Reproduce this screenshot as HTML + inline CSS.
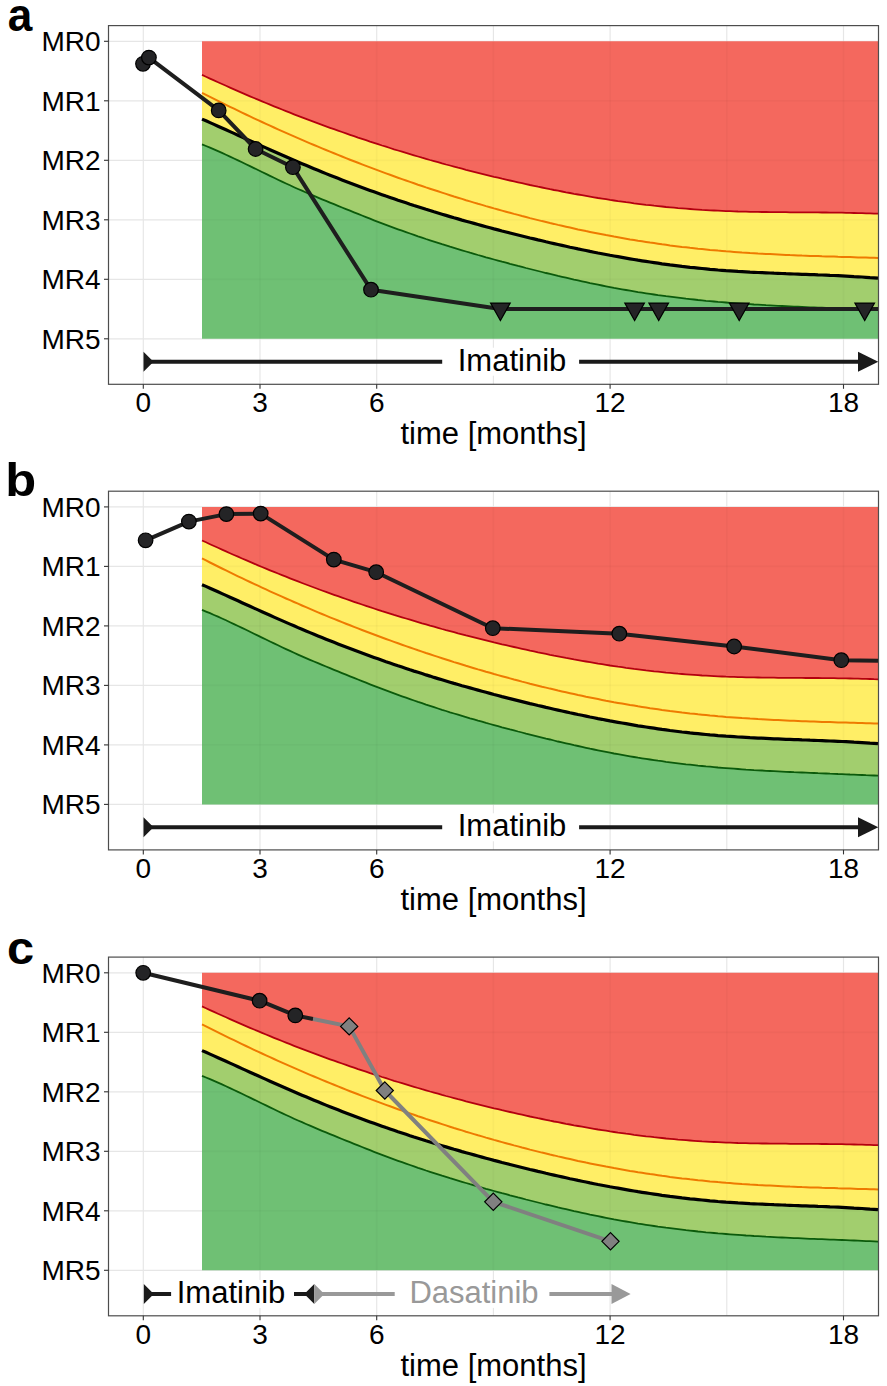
<!DOCTYPE html>
<html><head><meta charset="utf-8"><style>
html,body{margin:0;padding:0;background:#fff;}
svg{display:block;font-family:"Liberation Sans",sans-serif;}
</style></head><body>
<svg width="887" height="1386" viewBox="0 0 887 1386">
<defs>
<g id="bands">
<path d="M202.0,41.3 L206.0,41.3 L210.0,41.3 L214.0,41.3 L218.0,41.3 L222.0,41.3 L226.0,41.3 L230.0,41.3 L234.0,41.3 L238.0,41.3 L242.0,41.3 L246.0,41.3 L250.0,41.3 L254.0,41.3 L258.0,41.3 L262.0,41.3 L266.0,41.3 L270.0,41.3 L274.0,41.3 L278.0,41.3 L282.0,41.3 L286.0,41.3 L290.0,41.3 L294.0,41.3 L298.0,41.3 L302.0,41.3 L306.0,41.3 L310.0,41.3 L314.0,41.3 L318.0,41.3 L322.0,41.3 L326.0,41.3 L330.0,41.3 L334.0,41.3 L338.0,41.3 L342.0,41.3 L346.0,41.3 L350.0,41.3 L354.0,41.3 L358.0,41.3 L362.0,41.3 L366.0,41.3 L370.0,41.3 L374.0,41.3 L378.0,41.3 L382.0,41.3 L386.0,41.3 L390.0,41.3 L394.0,41.3 L398.0,41.3 L402.0,41.3 L406.0,41.3 L410.0,41.3 L414.0,41.3 L418.0,41.3 L422.0,41.3 L426.0,41.3 L430.0,41.3 L434.0,41.3 L438.0,41.3 L442.0,41.3 L446.0,41.3 L450.0,41.3 L454.0,41.3 L458.0,41.3 L462.0,41.3 L466.0,41.3 L470.0,41.3 L474.0,41.3 L478.0,41.3 L482.0,41.3 L486.0,41.3 L490.0,41.3 L494.0,41.3 L498.0,41.3 L502.0,41.3 L506.0,41.3 L510.0,41.3 L514.0,41.3 L518.0,41.3 L522.0,41.3 L526.0,41.3 L530.0,41.3 L534.0,41.3 L538.0,41.3 L542.0,41.3 L546.0,41.3 L550.0,41.3 L554.0,41.3 L558.0,41.3 L562.0,41.3 L566.0,41.3 L570.0,41.3 L574.0,41.3 L578.0,41.3 L582.0,41.3 L586.0,41.3 L590.0,41.3 L594.0,41.3 L598.0,41.3 L602.0,41.3 L606.0,41.3 L610.0,41.3 L614.0,41.3 L618.0,41.3 L622.0,41.3 L626.0,41.3 L630.0,41.3 L634.0,41.3 L638.0,41.3 L642.0,41.3 L646.0,41.3 L650.0,41.3 L654.0,41.3 L658.0,41.3 L662.0,41.3 L666.0,41.3 L670.0,41.3 L674.0,41.3 L678.0,41.3 L682.0,41.3 L686.0,41.3 L690.0,41.3 L694.0,41.3 L698.0,41.3 L702.0,41.3 L706.0,41.3 L710.0,41.3 L714.0,41.3 L718.0,41.3 L722.0,41.3 L726.0,41.3 L730.0,41.3 L734.0,41.3 L738.0,41.3 L742.0,41.3 L746.0,41.3 L750.0,41.3 L754.0,41.3 L758.0,41.3 L762.0,41.3 L766.0,41.3 L770.0,41.3 L774.0,41.3 L778.0,41.3 L782.0,41.3 L786.0,41.3 L790.0,41.3 L794.0,41.3 L798.0,41.3 L802.0,41.3 L806.0,41.3 L810.0,41.3 L814.0,41.3 L818.0,41.3 L822.0,41.3 L826.0,41.3 L830.0,41.3 L834.0,41.3 L838.0,41.3 L842.0,41.3 L846.0,41.3 L850.0,41.3 L854.0,41.3 L858.0,41.3 L862.0,41.3 L866.0,41.3 L870.0,41.3 L874.0,41.3 L878.0,41.3 L878.0,213.7 L874.0,213.6 L870.0,213.4 L866.0,213.3 L862.0,213.2 L858.0,213.1 L854.0,213.0 L850.0,212.9 L846.0,212.8 L842.0,212.7 L838.0,212.7 L834.0,212.6 L830.0,212.6 L826.0,212.5 L822.0,212.5 L818.0,212.4 L814.0,212.4 L810.0,212.4 L806.0,212.4 L802.0,212.3 L798.0,212.3 L794.0,212.3 L790.0,212.3 L786.0,212.2 L782.0,212.2 L778.0,212.2 L774.0,212.1 L770.0,212.1 L766.0,212.0 L762.0,212.0 L758.0,211.9 L754.0,211.8 L750.0,211.8 L746.0,211.7 L742.0,211.6 L738.0,211.5 L734.0,211.3 L730.0,211.2 L726.0,211.1 L722.0,210.9 L718.0,210.7 L714.0,210.5 L710.0,210.3 L706.0,210.1 L702.0,209.9 L698.0,209.6 L694.0,209.3 L690.0,209.0 L686.0,208.7 L682.0,208.4 L678.0,208.1 L674.0,207.7 L670.0,207.3 L666.0,207.0 L662.0,206.5 L658.0,206.1 L654.0,205.7 L650.0,205.2 L646.0,204.8 L642.0,204.3 L638.0,203.8 L634.0,203.3 L630.0,202.7 L626.0,202.2 L622.0,201.6 L618.0,201.1 L614.0,200.5 L610.0,199.9 L606.0,199.2 L602.0,198.6 L598.0,198.0 L594.0,197.3 L590.0,196.6 L586.0,195.9 L582.0,195.2 L578.0,194.5 L574.0,193.8 L570.0,193.0 L566.0,192.3 L562.0,191.5 L558.0,190.7 L554.0,190.0 L550.0,189.2 L546.0,188.3 L542.0,187.5 L538.0,186.7 L534.0,185.8 L530.0,185.0 L526.0,184.1 L522.0,183.2 L518.0,182.3 L514.0,181.4 L510.0,180.5 L506.0,179.6 L502.0,178.7 L498.0,177.7 L494.0,176.8 L490.0,175.8 L486.0,174.8 L482.0,173.8 L478.0,172.8 L474.0,171.8 L470.0,170.8 L466.0,169.8 L462.0,168.7 L458.0,167.7 L454.0,166.6 L450.0,165.5 L446.0,164.5 L442.0,163.4 L438.0,162.2 L434.0,161.1 L430.0,160.0 L426.0,158.8 L422.0,157.7 L418.0,156.5 L414.0,155.3 L410.0,154.1 L406.0,152.9 L402.0,151.7 L398.0,150.5 L394.0,149.3 L390.0,148.0 L386.0,146.7 L382.0,145.5 L378.0,144.2 L374.0,142.9 L370.0,141.6 L366.0,140.2 L362.0,138.9 L358.0,137.6 L354.0,136.2 L350.0,134.8 L346.0,133.4 L342.0,132.0 L338.0,130.6 L334.0,129.2 L330.0,127.8 L326.0,126.3 L322.0,124.9 L318.0,123.4 L314.0,121.9 L310.0,120.4 L306.0,118.9 L302.0,117.4 L298.0,115.8 L294.0,114.3 L290.0,112.7 L286.0,111.1 L282.0,109.5 L278.0,107.9 L274.0,106.3 L270.0,104.7 L266.0,103.0 L262.0,101.4 L258.0,99.7 L254.0,98.0 L250.0,96.3 L246.0,94.6 L242.0,92.9 L238.0,91.1 L234.0,89.4 L230.0,87.6 L226.0,85.8 L222.0,84.0 L218.0,82.2 L214.0,80.4 L210.0,78.6 L206.0,76.7 L202.0,74.9Z" fill="#f4685e"/>
<path d="M202.0,74.9 L206.0,76.7 L210.0,78.6 L214.0,80.4 L218.0,82.2 L222.0,84.0 L226.0,85.8 L230.0,87.6 L234.0,89.4 L238.0,91.1 L242.0,92.9 L246.0,94.6 L250.0,96.3 L254.0,98.0 L258.0,99.7 L262.0,101.4 L266.0,103.0 L270.0,104.7 L274.0,106.3 L278.0,107.9 L282.0,109.5 L286.0,111.1 L290.0,112.7 L294.0,114.3 L298.0,115.8 L302.0,117.4 L306.0,118.9 L310.0,120.4 L314.0,121.9 L318.0,123.4 L322.0,124.9 L326.0,126.3 L330.0,127.8 L334.0,129.2 L338.0,130.6 L342.0,132.0 L346.0,133.4 L350.0,134.8 L354.0,136.2 L358.0,137.6 L362.0,138.9 L366.0,140.2 L370.0,141.6 L374.0,142.9 L378.0,144.2 L382.0,145.5 L386.0,146.7 L390.0,148.0 L394.0,149.3 L398.0,150.5 L402.0,151.7 L406.0,152.9 L410.0,154.1 L414.0,155.3 L418.0,156.5 L422.0,157.7 L426.0,158.8 L430.0,160.0 L434.0,161.1 L438.0,162.2 L442.0,163.4 L446.0,164.5 L450.0,165.5 L454.0,166.6 L458.0,167.7 L462.0,168.7 L466.0,169.8 L470.0,170.8 L474.0,171.8 L478.0,172.8 L482.0,173.8 L486.0,174.8 L490.0,175.8 L494.0,176.8 L498.0,177.7 L502.0,178.7 L506.0,179.6 L510.0,180.5 L514.0,181.4 L518.0,182.3 L522.0,183.2 L526.0,184.1 L530.0,185.0 L534.0,185.8 L538.0,186.7 L542.0,187.5 L546.0,188.3 L550.0,189.2 L554.0,190.0 L558.0,190.7 L562.0,191.5 L566.0,192.3 L570.0,193.0 L574.0,193.8 L578.0,194.5 L582.0,195.2 L586.0,195.9 L590.0,196.6 L594.0,197.3 L598.0,198.0 L602.0,198.6 L606.0,199.2 L610.0,199.9 L614.0,200.5 L618.0,201.1 L622.0,201.6 L626.0,202.2 L630.0,202.7 L634.0,203.3 L638.0,203.8 L642.0,204.3 L646.0,204.8 L650.0,205.2 L654.0,205.7 L658.0,206.1 L662.0,206.5 L666.0,207.0 L670.0,207.3 L674.0,207.7 L678.0,208.1 L682.0,208.4 L686.0,208.7 L690.0,209.0 L694.0,209.3 L698.0,209.6 L702.0,209.9 L706.0,210.1 L710.0,210.3 L714.0,210.5 L718.0,210.7 L722.0,210.9 L726.0,211.1 L730.0,211.2 L734.0,211.3 L738.0,211.5 L742.0,211.6 L746.0,211.7 L750.0,211.8 L754.0,211.8 L758.0,211.9 L762.0,212.0 L766.0,212.0 L770.0,212.1 L774.0,212.1 L778.0,212.2 L782.0,212.2 L786.0,212.2 L790.0,212.3 L794.0,212.3 L798.0,212.3 L802.0,212.3 L806.0,212.4 L810.0,212.4 L814.0,212.4 L818.0,212.4 L822.0,212.5 L826.0,212.5 L830.0,212.6 L834.0,212.6 L838.0,212.7 L842.0,212.7 L846.0,212.8 L850.0,212.9 L854.0,213.0 L858.0,213.1 L862.0,213.2 L866.0,213.3 L870.0,213.4 L874.0,213.6 L878.0,213.7 L878.0,278.1 L874.0,277.8 L870.0,277.6 L866.0,277.3 L862.0,277.0 L858.0,276.8 L854.0,276.6 L850.0,276.3 L846.0,276.1 L842.0,275.9 L838.0,275.7 L834.0,275.5 L830.0,275.4 L826.0,275.2 L822.0,275.0 L818.0,274.9 L814.0,274.7 L810.0,274.6 L806.0,274.4 L802.0,274.3 L798.0,274.1 L794.0,274.0 L790.0,273.8 L786.0,273.7 L782.0,273.5 L778.0,273.3 L774.0,273.2 L770.0,273.0 L766.0,272.8 L762.0,272.6 L758.0,272.5 L754.0,272.3 L750.0,272.1 L746.0,271.8 L742.0,271.6 L738.0,271.4 L734.0,271.1 L730.0,270.8 L726.0,270.6 L722.0,270.3 L718.0,270.0 L714.0,269.6 L710.0,269.3 L706.0,268.9 L702.0,268.5 L698.0,268.1 L694.0,267.7 L690.0,267.3 L686.0,266.8 L682.0,266.4 L678.0,265.9 L674.0,265.4 L670.0,264.9 L666.0,264.3 L662.0,263.8 L658.0,263.2 L654.0,262.6 L650.0,262.0 L646.0,261.4 L642.0,260.8 L638.0,260.2 L634.0,259.5 L630.0,258.8 L626.0,258.1 L622.0,257.4 L618.0,256.7 L614.0,256.0 L610.0,255.3 L606.0,254.5 L602.0,253.7 L598.0,253.0 L594.0,252.2 L590.0,251.4 L586.0,250.5 L582.0,249.7 L578.0,248.9 L574.0,248.0 L570.0,247.2 L566.0,246.3 L562.0,245.4 L558.0,244.5 L554.0,243.6 L550.0,242.7 L546.0,241.8 L542.0,240.8 L538.0,239.9 L534.0,238.9 L530.0,238.0 L526.0,237.0 L522.0,236.0 L518.0,235.0 L514.0,234.0 L510.0,233.0 L506.0,232.0 L502.0,231.0 L498.0,229.9 L494.0,228.9 L490.0,227.8 L486.0,226.7 L482.0,225.6 L478.0,224.5 L474.0,223.4 L470.0,222.3 L466.0,221.2 L462.0,220.1 L458.0,218.9 L454.0,217.8 L450.0,216.6 L446.0,215.4 L442.0,214.2 L438.0,213.0 L434.0,211.8 L430.0,210.5 L426.0,209.3 L422.0,208.0 L418.0,206.7 L414.0,205.5 L410.0,204.2 L406.0,202.8 L402.0,201.5 L398.0,200.2 L394.0,198.8 L390.0,197.4 L386.0,196.1 L382.0,194.7 L378.0,193.2 L374.0,191.8 L370.0,190.4 L366.0,188.9 L362.0,187.4 L358.0,186.0 L354.0,184.5 L350.0,182.9 L346.0,181.4 L342.0,179.9 L338.0,178.3 L334.0,176.7 L330.0,175.2 L326.0,173.6 L322.0,171.9 L318.0,170.3 L314.0,168.7 L310.0,167.0 L306.0,165.3 L302.0,163.7 L298.0,162.0 L294.0,160.2 L290.0,158.5 L286.0,156.8 L282.0,155.0 L278.0,153.3 L274.0,151.5 L270.0,149.7 L266.0,147.9 L262.0,146.1 L258.0,144.3 L254.0,142.5 L250.0,140.7 L246.0,138.9 L242.0,137.1 L238.0,135.2 L234.0,133.4 L230.0,131.6 L226.0,129.8 L222.0,128.0 L218.0,126.2 L214.0,124.4 L210.0,122.6 L206.0,120.8 L202.0,119.1Z" fill="#ffee66"/>
<path d="M202.0,119.1 L206.0,120.8 L210.0,122.6 L214.0,124.4 L218.0,126.2 L222.0,128.0 L226.0,129.8 L230.0,131.6 L234.0,133.4 L238.0,135.2 L242.0,137.1 L246.0,138.9 L250.0,140.7 L254.0,142.5 L258.0,144.3 L262.0,146.1 L266.0,147.9 L270.0,149.7 L274.0,151.5 L278.0,153.3 L282.0,155.0 L286.0,156.8 L290.0,158.5 L294.0,160.2 L298.0,162.0 L302.0,163.7 L306.0,165.3 L310.0,167.0 L314.0,168.7 L318.0,170.3 L322.0,171.9 L326.0,173.6 L330.0,175.2 L334.0,176.7 L338.0,178.3 L342.0,179.9 L346.0,181.4 L350.0,182.9 L354.0,184.5 L358.0,186.0 L362.0,187.4 L366.0,188.9 L370.0,190.4 L374.0,191.8 L378.0,193.2 L382.0,194.7 L386.0,196.1 L390.0,197.4 L394.0,198.8 L398.0,200.2 L402.0,201.5 L406.0,202.8 L410.0,204.2 L414.0,205.5 L418.0,206.7 L422.0,208.0 L426.0,209.3 L430.0,210.5 L434.0,211.8 L438.0,213.0 L442.0,214.2 L446.0,215.4 L450.0,216.6 L454.0,217.8 L458.0,218.9 L462.0,220.1 L466.0,221.2 L470.0,222.3 L474.0,223.4 L478.0,224.5 L482.0,225.6 L486.0,226.7 L490.0,227.8 L494.0,228.9 L498.0,229.9 L502.0,231.0 L506.0,232.0 L510.0,233.0 L514.0,234.0 L518.0,235.0 L522.0,236.0 L526.0,237.0 L530.0,238.0 L534.0,238.9 L538.0,239.9 L542.0,240.8 L546.0,241.8 L550.0,242.7 L554.0,243.6 L558.0,244.5 L562.0,245.4 L566.0,246.3 L570.0,247.2 L574.0,248.0 L578.0,248.9 L582.0,249.7 L586.0,250.5 L590.0,251.4 L594.0,252.2 L598.0,253.0 L602.0,253.7 L606.0,254.5 L610.0,255.3 L614.0,256.0 L618.0,256.7 L622.0,257.4 L626.0,258.1 L630.0,258.8 L634.0,259.5 L638.0,260.2 L642.0,260.8 L646.0,261.4 L650.0,262.0 L654.0,262.6 L658.0,263.2 L662.0,263.8 L666.0,264.3 L670.0,264.9 L674.0,265.4 L678.0,265.9 L682.0,266.4 L686.0,266.8 L690.0,267.3 L694.0,267.7 L698.0,268.1 L702.0,268.5 L706.0,268.9 L710.0,269.3 L714.0,269.6 L718.0,270.0 L722.0,270.3 L726.0,270.6 L730.0,270.8 L734.0,271.1 L738.0,271.4 L742.0,271.6 L746.0,271.8 L750.0,272.1 L754.0,272.3 L758.0,272.5 L762.0,272.6 L766.0,272.8 L770.0,273.0 L774.0,273.2 L778.0,273.3 L782.0,273.5 L786.0,273.7 L790.0,273.8 L794.0,274.0 L798.0,274.1 L802.0,274.3 L806.0,274.4 L810.0,274.6 L814.0,274.7 L818.0,274.9 L822.0,275.0 L826.0,275.2 L830.0,275.4 L834.0,275.5 L838.0,275.7 L842.0,275.9 L846.0,276.1 L850.0,276.3 L854.0,276.6 L858.0,276.8 L862.0,277.0 L866.0,277.3 L870.0,277.6 L874.0,277.8 L878.0,278.1 L878.0,310.1 L874.0,309.9 L870.0,309.7 L866.0,309.6 L862.0,309.4 L858.0,309.2 L854.0,309.0 L850.0,308.9 L846.0,308.7 L842.0,308.5 L838.0,308.4 L834.0,308.2 L830.0,308.1 L826.0,307.9 L822.0,307.7 L818.0,307.6 L814.0,307.4 L810.0,307.3 L806.0,307.1 L802.0,306.9 L798.0,306.7 L794.0,306.6 L790.0,306.4 L786.0,306.2 L782.0,306.0 L778.0,305.8 L774.0,305.6 L770.0,305.4 L766.0,305.2 L762.0,304.9 L758.0,304.7 L754.0,304.5 L750.0,304.2 L746.0,304.0 L742.0,303.7 L738.0,303.4 L734.0,303.1 L730.0,302.8 L726.0,302.5 L722.0,302.2 L718.0,301.9 L714.0,301.5 L710.0,301.1 L706.0,300.8 L702.0,300.4 L698.0,300.0 L694.0,299.5 L690.0,299.1 L686.0,298.7 L682.0,298.2 L678.0,297.7 L674.0,297.2 L670.0,296.7 L666.0,296.2 L662.0,295.6 L658.0,295.1 L654.0,294.5 L650.0,293.9 L646.0,293.3 L642.0,292.7 L638.0,292.1 L634.0,291.4 L630.0,290.7 L626.0,290.0 L622.0,289.3 L618.0,288.6 L614.0,287.9 L610.0,287.1 L606.0,286.3 L602.0,285.5 L598.0,284.7 L594.0,283.9 L590.0,283.1 L586.0,282.2 L582.0,281.3 L578.0,280.4 L574.0,279.6 L570.0,278.6 L566.0,277.7 L562.0,276.8 L558.0,275.9 L554.0,274.9 L550.0,273.9 L546.0,273.0 L542.0,272.0 L538.0,271.0 L534.0,270.0 L530.0,269.0 L526.0,268.0 L522.0,266.9 L518.0,265.9 L514.0,264.8 L510.0,263.8 L506.0,262.7 L502.0,261.7 L498.0,260.6 L494.0,259.5 L490.0,258.4 L486.0,257.3 L482.0,256.1 L478.0,255.0 L474.0,253.8 L470.0,252.7 L466.0,251.5 L462.0,250.3 L458.0,249.1 L454.0,247.9 L450.0,246.7 L446.0,245.4 L442.0,244.2 L438.0,242.9 L434.0,241.6 L430.0,240.3 L426.0,239.0 L422.0,237.6 L418.0,236.3 L414.0,234.9 L410.0,233.5 L406.0,232.1 L402.0,230.7 L398.0,229.3 L394.0,227.8 L390.0,226.3 L386.0,224.8 L382.0,223.3 L378.0,221.8 L374.0,220.3 L370.0,218.7 L366.0,217.1 L362.0,215.5 L358.0,213.9 L354.0,212.3 L350.0,210.7 L346.0,209.1 L342.0,207.5 L338.0,205.8 L334.0,204.2 L330.0,202.6 L326.0,200.9 L322.0,199.3 L318.0,197.6 L314.0,195.9 L310.0,194.2 L306.0,192.5 L302.0,190.7 L298.0,189.0 L294.0,187.2 L290.0,185.3 L286.0,183.5 L282.0,181.6 L278.0,179.7 L274.0,177.8 L270.0,175.9 L266.0,173.9 L262.0,172.0 L258.0,170.0 L254.0,168.1 L250.0,166.1 L246.0,164.2 L242.0,162.3 L238.0,160.4 L234.0,158.5 L230.0,156.6 L226.0,154.7 L222.0,152.9 L218.0,151.1 L214.0,149.4 L210.0,147.6 L206.0,146.0 L202.0,144.3Z" fill="#a2ce6e"/>
<path d="M202.0,144.3 L206.0,146.0 L210.0,147.6 L214.0,149.4 L218.0,151.1 L222.0,152.9 L226.0,154.7 L230.0,156.6 L234.0,158.5 L238.0,160.4 L242.0,162.3 L246.0,164.2 L250.0,166.1 L254.0,168.1 L258.0,170.0 L262.0,172.0 L266.0,173.9 L270.0,175.9 L274.0,177.8 L278.0,179.7 L282.0,181.6 L286.0,183.5 L290.0,185.3 L294.0,187.2 L298.0,189.0 L302.0,190.7 L306.0,192.5 L310.0,194.2 L314.0,195.9 L318.0,197.6 L322.0,199.3 L326.0,200.9 L330.0,202.6 L334.0,204.2 L338.0,205.8 L342.0,207.5 L346.0,209.1 L350.0,210.7 L354.0,212.3 L358.0,213.9 L362.0,215.5 L366.0,217.1 L370.0,218.7 L374.0,220.3 L378.0,221.8 L382.0,223.3 L386.0,224.8 L390.0,226.3 L394.0,227.8 L398.0,229.3 L402.0,230.7 L406.0,232.1 L410.0,233.5 L414.0,234.9 L418.0,236.3 L422.0,237.6 L426.0,239.0 L430.0,240.3 L434.0,241.6 L438.0,242.9 L442.0,244.2 L446.0,245.4 L450.0,246.7 L454.0,247.9 L458.0,249.1 L462.0,250.3 L466.0,251.5 L470.0,252.7 L474.0,253.8 L478.0,255.0 L482.0,256.1 L486.0,257.3 L490.0,258.4 L494.0,259.5 L498.0,260.6 L502.0,261.7 L506.0,262.7 L510.0,263.8 L514.0,264.8 L518.0,265.9 L522.0,266.9 L526.0,268.0 L530.0,269.0 L534.0,270.0 L538.0,271.0 L542.0,272.0 L546.0,273.0 L550.0,273.9 L554.0,274.9 L558.0,275.9 L562.0,276.8 L566.0,277.7 L570.0,278.6 L574.0,279.6 L578.0,280.4 L582.0,281.3 L586.0,282.2 L590.0,283.1 L594.0,283.9 L598.0,284.7 L602.0,285.5 L606.0,286.3 L610.0,287.1 L614.0,287.9 L618.0,288.6 L622.0,289.3 L626.0,290.0 L630.0,290.7 L634.0,291.4 L638.0,292.1 L642.0,292.7 L646.0,293.3 L650.0,293.9 L654.0,294.5 L658.0,295.1 L662.0,295.6 L666.0,296.2 L670.0,296.7 L674.0,297.2 L678.0,297.7 L682.0,298.2 L686.0,298.7 L690.0,299.1 L694.0,299.5 L698.0,300.0 L702.0,300.4 L706.0,300.8 L710.0,301.1 L714.0,301.5 L718.0,301.9 L722.0,302.2 L726.0,302.5 L730.0,302.8 L734.0,303.1 L738.0,303.4 L742.0,303.7 L746.0,304.0 L750.0,304.2 L754.0,304.5 L758.0,304.7 L762.0,304.9 L766.0,305.2 L770.0,305.4 L774.0,305.6 L778.0,305.8 L782.0,306.0 L786.0,306.2 L790.0,306.4 L794.0,306.6 L798.0,306.7 L802.0,306.9 L806.0,307.1 L810.0,307.3 L814.0,307.4 L818.0,307.6 L822.0,307.7 L826.0,307.9 L830.0,308.1 L834.0,308.2 L838.0,308.4 L842.0,308.5 L846.0,308.7 L850.0,308.9 L854.0,309.0 L858.0,309.2 L862.0,309.4 L866.0,309.6 L870.0,309.7 L874.0,309.9 L878.0,310.1 L878.0,338.8 L874.0,338.8 L870.0,338.8 L866.0,338.8 L862.0,338.8 L858.0,338.8 L854.0,338.8 L850.0,338.8 L846.0,338.8 L842.0,338.8 L838.0,338.8 L834.0,338.8 L830.0,338.8 L826.0,338.8 L822.0,338.8 L818.0,338.8 L814.0,338.8 L810.0,338.8 L806.0,338.8 L802.0,338.8 L798.0,338.8 L794.0,338.8 L790.0,338.8 L786.0,338.8 L782.0,338.8 L778.0,338.8 L774.0,338.8 L770.0,338.8 L766.0,338.8 L762.0,338.8 L758.0,338.8 L754.0,338.8 L750.0,338.8 L746.0,338.8 L742.0,338.8 L738.0,338.8 L734.0,338.8 L730.0,338.8 L726.0,338.8 L722.0,338.8 L718.0,338.8 L714.0,338.8 L710.0,338.8 L706.0,338.8 L702.0,338.8 L698.0,338.8 L694.0,338.8 L690.0,338.8 L686.0,338.8 L682.0,338.8 L678.0,338.8 L674.0,338.8 L670.0,338.8 L666.0,338.8 L662.0,338.8 L658.0,338.8 L654.0,338.8 L650.0,338.8 L646.0,338.8 L642.0,338.8 L638.0,338.8 L634.0,338.8 L630.0,338.8 L626.0,338.8 L622.0,338.8 L618.0,338.8 L614.0,338.8 L610.0,338.8 L606.0,338.8 L602.0,338.8 L598.0,338.8 L594.0,338.8 L590.0,338.8 L586.0,338.8 L582.0,338.8 L578.0,338.8 L574.0,338.8 L570.0,338.8 L566.0,338.8 L562.0,338.8 L558.0,338.8 L554.0,338.8 L550.0,338.8 L546.0,338.8 L542.0,338.8 L538.0,338.8 L534.0,338.8 L530.0,338.8 L526.0,338.8 L522.0,338.8 L518.0,338.8 L514.0,338.8 L510.0,338.8 L506.0,338.8 L502.0,338.8 L498.0,338.8 L494.0,338.8 L490.0,338.8 L486.0,338.8 L482.0,338.8 L478.0,338.8 L474.0,338.8 L470.0,338.8 L466.0,338.8 L462.0,338.8 L458.0,338.8 L454.0,338.8 L450.0,338.8 L446.0,338.8 L442.0,338.8 L438.0,338.8 L434.0,338.8 L430.0,338.8 L426.0,338.8 L422.0,338.8 L418.0,338.8 L414.0,338.8 L410.0,338.8 L406.0,338.8 L402.0,338.8 L398.0,338.8 L394.0,338.8 L390.0,338.8 L386.0,338.8 L382.0,338.8 L378.0,338.8 L374.0,338.8 L370.0,338.8 L366.0,338.8 L362.0,338.8 L358.0,338.8 L354.0,338.8 L350.0,338.8 L346.0,338.8 L342.0,338.8 L338.0,338.8 L334.0,338.8 L330.0,338.8 L326.0,338.8 L322.0,338.8 L318.0,338.8 L314.0,338.8 L310.0,338.8 L306.0,338.8 L302.0,338.8 L298.0,338.8 L294.0,338.8 L290.0,338.8 L286.0,338.8 L282.0,338.8 L278.0,338.8 L274.0,338.8 L270.0,338.8 L266.0,338.8 L262.0,338.8 L258.0,338.8 L254.0,338.8 L250.0,338.8 L246.0,338.8 L242.0,338.8 L238.0,338.8 L234.0,338.8 L230.0,338.8 L226.0,338.8 L222.0,338.8 L218.0,338.8 L214.0,338.8 L210.0,338.8 L206.0,338.8 L202.0,338.8Z" fill="#6fc074"/>
<g stroke="#000" stroke-opacity="0.025" stroke-width="1.8">
<line x1="260.0" y1="41.3" x2="260.0" y2="338.8"/><line x1="376.7" y1="41.3" x2="376.7" y2="338.8"/><line x1="493.4" y1="41.3" x2="493.4" y2="338.8"/><line x1="610.1" y1="41.3" x2="610.1" y2="338.8"/><line x1="726.8" y1="41.3" x2="726.8" y2="338.8"/><line x1="843.5" y1="41.3" x2="843.5" y2="338.8"/><line x1="202.0" y1="100.8" x2="878.0" y2="100.8"/><line x1="202.0" y1="160.3" x2="878.0" y2="160.3"/><line x1="202.0" y1="219.8" x2="878.0" y2="219.8"/><line x1="202.0" y1="279.3" x2="878.0" y2="279.3"/>
</g>
<path d="M202.0,74.9 L206.0,76.7 L210.0,78.6 L214.0,80.4 L218.0,82.2 L222.0,84.0 L226.0,85.8 L230.0,87.6 L234.0,89.4 L238.0,91.1 L242.0,92.9 L246.0,94.6 L250.0,96.3 L254.0,98.0 L258.0,99.7 L262.0,101.4 L266.0,103.0 L270.0,104.7 L274.0,106.3 L278.0,107.9 L282.0,109.5 L286.0,111.1 L290.0,112.7 L294.0,114.3 L298.0,115.8 L302.0,117.4 L306.0,118.9 L310.0,120.4 L314.0,121.9 L318.0,123.4 L322.0,124.9 L326.0,126.3 L330.0,127.8 L334.0,129.2 L338.0,130.6 L342.0,132.0 L346.0,133.4 L350.0,134.8 L354.0,136.2 L358.0,137.6 L362.0,138.9 L366.0,140.2 L370.0,141.6 L374.0,142.9 L378.0,144.2 L382.0,145.5 L386.0,146.7 L390.0,148.0 L394.0,149.3 L398.0,150.5 L402.0,151.7 L406.0,152.9 L410.0,154.1 L414.0,155.3 L418.0,156.5 L422.0,157.7 L426.0,158.8 L430.0,160.0 L434.0,161.1 L438.0,162.2 L442.0,163.4 L446.0,164.5 L450.0,165.5 L454.0,166.6 L458.0,167.7 L462.0,168.7 L466.0,169.8 L470.0,170.8 L474.0,171.8 L478.0,172.8 L482.0,173.8 L486.0,174.8 L490.0,175.8 L494.0,176.8 L498.0,177.7 L502.0,178.7 L506.0,179.6 L510.0,180.5 L514.0,181.4 L518.0,182.3 L522.0,183.2 L526.0,184.1 L530.0,185.0 L534.0,185.8 L538.0,186.7 L542.0,187.5 L546.0,188.3 L550.0,189.2 L554.0,190.0 L558.0,190.7 L562.0,191.5 L566.0,192.3 L570.0,193.0 L574.0,193.8 L578.0,194.5 L582.0,195.2 L586.0,195.9 L590.0,196.6 L594.0,197.3 L598.0,198.0 L602.0,198.6 L606.0,199.2 L610.0,199.9 L614.0,200.5 L618.0,201.1 L622.0,201.6 L626.0,202.2 L630.0,202.7 L634.0,203.3 L638.0,203.8 L642.0,204.3 L646.0,204.8 L650.0,205.2 L654.0,205.7 L658.0,206.1 L662.0,206.5 L666.0,207.0 L670.0,207.3 L674.0,207.7 L678.0,208.1 L682.0,208.4 L686.0,208.7 L690.0,209.0 L694.0,209.3 L698.0,209.6 L702.0,209.9 L706.0,210.1 L710.0,210.3 L714.0,210.5 L718.0,210.7 L722.0,210.9 L726.0,211.1 L730.0,211.2 L734.0,211.3 L738.0,211.5 L742.0,211.6 L746.0,211.7 L750.0,211.8 L754.0,211.8 L758.0,211.9 L762.0,212.0 L766.0,212.0 L770.0,212.1 L774.0,212.1 L778.0,212.2 L782.0,212.2 L786.0,212.2 L790.0,212.3 L794.0,212.3 L798.0,212.3 L802.0,212.3 L806.0,212.4 L810.0,212.4 L814.0,212.4 L818.0,212.4 L822.0,212.5 L826.0,212.5 L830.0,212.6 L834.0,212.6 L838.0,212.7 L842.0,212.7 L846.0,212.8 L850.0,212.9 L854.0,213.0 L858.0,213.1 L862.0,213.2 L866.0,213.3 L870.0,213.4 L874.0,213.6 L878.0,213.7" fill="none" stroke="#b3000f" stroke-width="1.8"/>
<path d="M202.0,92.8 L206.0,94.8 L210.0,96.9 L214.0,98.9 L218.0,100.9 L222.0,102.9 L226.0,104.8 L230.0,106.8 L234.0,108.7 L238.0,110.7 L242.0,112.6 L246.0,114.5 L250.0,116.4 L254.0,118.3 L258.0,120.1 L262.0,122.0 L266.0,123.8 L270.0,125.7 L274.0,127.5 L278.0,129.3 L282.0,131.1 L286.0,132.9 L290.0,134.6 L294.0,136.4 L298.0,138.1 L302.0,139.9 L306.0,141.6 L310.0,143.3 L314.0,145.0 L318.0,146.7 L322.0,148.4 L326.0,150.0 L330.0,151.7 L334.0,153.3 L338.0,154.9 L342.0,156.5 L346.0,158.1 L350.0,159.7 L354.0,161.3 L358.0,162.8 L362.0,164.4 L366.0,165.9 L370.0,167.4 L374.0,168.9 L378.0,170.4 L382.0,171.9 L386.0,173.4 L390.0,174.8 L394.0,176.3 L398.0,177.7 L402.0,179.1 L406.0,180.5 L410.0,181.9 L414.0,183.3 L418.0,184.7 L422.0,186.0 L426.0,187.4 L430.0,188.7 L434.0,190.0 L438.0,191.3 L442.0,192.6 L446.0,193.9 L450.0,195.2 L454.0,196.5 L458.0,197.7 L462.0,198.9 L466.0,200.2 L470.0,201.4 L474.0,202.6 L478.0,203.8 L482.0,204.9 L486.0,206.1 L490.0,207.2 L494.0,208.4 L498.0,209.5 L502.0,210.6 L506.0,211.7 L510.0,212.8 L514.0,213.9 L518.0,214.9 L522.0,216.0 L526.0,217.0 L530.0,218.1 L534.0,219.1 L538.0,220.1 L542.0,221.1 L546.0,222.0 L550.0,223.0 L554.0,223.9 L558.0,224.9 L562.0,225.8 L566.0,226.7 L570.0,227.6 L574.0,228.5 L578.0,229.4 L582.0,230.2 L586.0,231.1 L590.0,231.9 L594.0,232.7 L598.0,233.5 L602.0,234.3 L606.0,235.1 L610.0,235.8 L614.0,236.6 L618.0,237.3 L622.0,238.0 L626.0,238.7 L630.0,239.4 L634.0,240.0 L638.0,240.7 L642.0,241.3 L646.0,241.9 L650.0,242.6 L654.0,243.1 L658.0,243.7 L662.0,244.3 L666.0,244.8 L670.0,245.4 L674.0,245.9 L678.0,246.4 L682.0,246.9 L686.0,247.3 L690.0,247.8 L694.0,248.2 L698.0,248.7 L702.0,249.1 L706.0,249.5 L710.0,249.9 L714.0,250.2 L718.0,250.6 L722.0,250.9 L726.0,251.3 L730.0,251.6 L734.0,251.9 L738.0,252.2 L742.0,252.5 L746.0,252.7 L750.0,253.0 L754.0,253.2 L758.0,253.5 L762.0,253.7 L766.0,253.9 L770.0,254.1 L774.0,254.3 L778.0,254.5 L782.0,254.7 L786.0,254.9 L790.0,255.1 L794.0,255.2 L798.0,255.4 L802.0,255.6 L806.0,255.7 L810.0,255.9 L814.0,256.0 L818.0,256.1 L822.0,256.3 L826.0,256.4 L830.0,256.5 L834.0,256.6 L838.0,256.8 L842.0,256.9 L846.0,257.0 L850.0,257.1 L854.0,257.2 L858.0,257.4 L862.0,257.5 L866.0,257.6 L870.0,257.7 L874.0,257.8 L878.0,258.0" fill="none" stroke="#ee7a00" stroke-width="2"/>
<path d="M202.0,144.3 L206.0,146.0 L210.0,147.6 L214.0,149.4 L218.0,151.1 L222.0,152.9 L226.0,154.7 L230.0,156.6 L234.0,158.5 L238.0,160.4 L242.0,162.3 L246.0,164.2 L250.0,166.1 L254.0,168.1 L258.0,170.0 L262.0,172.0 L266.0,173.9 L270.0,175.9 L274.0,177.8 L278.0,179.7 L282.0,181.6 L286.0,183.5 L290.0,185.3 L294.0,187.2 L298.0,189.0 L302.0,190.7 L306.0,192.5 L310.0,194.2 L314.0,195.9 L318.0,197.6 L322.0,199.3 L326.0,200.9 L330.0,202.6 L334.0,204.2 L338.0,205.8 L342.0,207.5 L346.0,209.1 L350.0,210.7 L354.0,212.3 L358.0,213.9 L362.0,215.5 L366.0,217.1 L370.0,218.7 L374.0,220.3 L378.0,221.8 L382.0,223.3 L386.0,224.8 L390.0,226.3 L394.0,227.8 L398.0,229.3 L402.0,230.7 L406.0,232.1 L410.0,233.5 L414.0,234.9 L418.0,236.3 L422.0,237.6 L426.0,239.0 L430.0,240.3 L434.0,241.6 L438.0,242.9 L442.0,244.2 L446.0,245.4 L450.0,246.7 L454.0,247.9 L458.0,249.1 L462.0,250.3 L466.0,251.5 L470.0,252.7 L474.0,253.8 L478.0,255.0 L482.0,256.1 L486.0,257.3 L490.0,258.4 L494.0,259.5 L498.0,260.6 L502.0,261.7 L506.0,262.7 L510.0,263.8 L514.0,264.8 L518.0,265.9 L522.0,266.9 L526.0,268.0 L530.0,269.0 L534.0,270.0 L538.0,271.0 L542.0,272.0 L546.0,273.0 L550.0,273.9 L554.0,274.9 L558.0,275.9 L562.0,276.8 L566.0,277.7 L570.0,278.6 L574.0,279.6 L578.0,280.4 L582.0,281.3 L586.0,282.2 L590.0,283.1 L594.0,283.9 L598.0,284.7 L602.0,285.5 L606.0,286.3 L610.0,287.1 L614.0,287.9 L618.0,288.6 L622.0,289.3 L626.0,290.0 L630.0,290.7 L634.0,291.4 L638.0,292.1 L642.0,292.7 L646.0,293.3 L650.0,293.9 L654.0,294.5 L658.0,295.1 L662.0,295.6 L666.0,296.2 L670.0,296.7 L674.0,297.2 L678.0,297.7 L682.0,298.2 L686.0,298.7 L690.0,299.1 L694.0,299.5 L698.0,300.0 L702.0,300.4 L706.0,300.8 L710.0,301.1 L714.0,301.5 L718.0,301.9 L722.0,302.2 L726.0,302.5 L730.0,302.8 L734.0,303.1 L738.0,303.4 L742.0,303.7 L746.0,304.0 L750.0,304.2 L754.0,304.5 L758.0,304.7 L762.0,304.9 L766.0,305.2 L770.0,305.4 L774.0,305.6 L778.0,305.8 L782.0,306.0 L786.0,306.2 L790.0,306.4 L794.0,306.6 L798.0,306.7 L802.0,306.9 L806.0,307.1 L810.0,307.3 L814.0,307.4 L818.0,307.6 L822.0,307.7 L826.0,307.9 L830.0,308.1 L834.0,308.2 L838.0,308.4 L842.0,308.5 L846.0,308.7 L850.0,308.9 L854.0,309.0 L858.0,309.2 L862.0,309.4 L866.0,309.6 L870.0,309.7 L874.0,309.9 L878.0,310.1" fill="none" stroke="#0b5a0b" stroke-width="1.8"/>
<path d="M202.0,119.1 L206.0,120.8 L210.0,122.6 L214.0,124.4 L218.0,126.2 L222.0,128.0 L226.0,129.8 L230.0,131.6 L234.0,133.4 L238.0,135.2 L242.0,137.1 L246.0,138.9 L250.0,140.7 L254.0,142.5 L258.0,144.3 L262.0,146.1 L266.0,147.9 L270.0,149.7 L274.0,151.5 L278.0,153.3 L282.0,155.0 L286.0,156.8 L290.0,158.5 L294.0,160.2 L298.0,162.0 L302.0,163.7 L306.0,165.3 L310.0,167.0 L314.0,168.7 L318.0,170.3 L322.0,171.9 L326.0,173.6 L330.0,175.2 L334.0,176.7 L338.0,178.3 L342.0,179.9 L346.0,181.4 L350.0,182.9 L354.0,184.5 L358.0,186.0 L362.0,187.4 L366.0,188.9 L370.0,190.4 L374.0,191.8 L378.0,193.2 L382.0,194.7 L386.0,196.1 L390.0,197.4 L394.0,198.8 L398.0,200.2 L402.0,201.5 L406.0,202.8 L410.0,204.2 L414.0,205.5 L418.0,206.7 L422.0,208.0 L426.0,209.3 L430.0,210.5 L434.0,211.8 L438.0,213.0 L442.0,214.2 L446.0,215.4 L450.0,216.6 L454.0,217.8 L458.0,218.9 L462.0,220.1 L466.0,221.2 L470.0,222.3 L474.0,223.4 L478.0,224.5 L482.0,225.6 L486.0,226.7 L490.0,227.8 L494.0,228.9 L498.0,229.9 L502.0,231.0 L506.0,232.0 L510.0,233.0 L514.0,234.0 L518.0,235.0 L522.0,236.0 L526.0,237.0 L530.0,238.0 L534.0,238.9 L538.0,239.9 L542.0,240.8 L546.0,241.8 L550.0,242.7 L554.0,243.6 L558.0,244.5 L562.0,245.4 L566.0,246.3 L570.0,247.2 L574.0,248.0 L578.0,248.9 L582.0,249.7 L586.0,250.5 L590.0,251.4 L594.0,252.2 L598.0,253.0 L602.0,253.7 L606.0,254.5 L610.0,255.3 L614.0,256.0 L618.0,256.7 L622.0,257.4 L626.0,258.1 L630.0,258.8 L634.0,259.5 L638.0,260.2 L642.0,260.8 L646.0,261.4 L650.0,262.0 L654.0,262.6 L658.0,263.2 L662.0,263.8 L666.0,264.3 L670.0,264.9 L674.0,265.4 L678.0,265.9 L682.0,266.4 L686.0,266.8 L690.0,267.3 L694.0,267.7 L698.0,268.1 L702.0,268.5 L706.0,268.9 L710.0,269.3 L714.0,269.6 L718.0,270.0 L722.0,270.3 L726.0,270.6 L730.0,270.8 L734.0,271.1 L738.0,271.4 L742.0,271.6 L746.0,271.8 L750.0,272.1 L754.0,272.3 L758.0,272.5 L762.0,272.6 L766.0,272.8 L770.0,273.0 L774.0,273.2 L778.0,273.3 L782.0,273.5 L786.0,273.7 L790.0,273.8 L794.0,274.0 L798.0,274.1 L802.0,274.3 L806.0,274.4 L810.0,274.6 L814.0,274.7 L818.0,274.9 L822.0,275.0 L826.0,275.2 L830.0,275.4 L834.0,275.5 L838.0,275.7 L842.0,275.9 L846.0,276.1 L850.0,276.3 L854.0,276.6 L858.0,276.8 L862.0,277.0 L866.0,277.3 L870.0,277.6 L874.0,277.8 L878.0,278.1" fill="none" stroke="#000000" stroke-width="3.2"/>
</g>
<g id="axes">
<rect x="108.5" y="25.6" width="770.0" height="358.7" fill="#fff"/>
<g stroke="#e6e6e6" stroke-width="1.15"><line x1="143.3" y1="25.6" x2="143.3" y2="384.3"/><line x1="260.0" y1="25.6" x2="260.0" y2="384.3"/><line x1="376.7" y1="25.6" x2="376.7" y2="384.3"/><line x1="493.4" y1="25.6" x2="493.4" y2="384.3"/><line x1="610.1" y1="25.6" x2="610.1" y2="384.3"/><line x1="726.8" y1="25.6" x2="726.8" y2="384.3"/><line x1="843.5" y1="25.6" x2="843.5" y2="384.3"/><line x1="108.5" y1="41.3" x2="878.5" y2="41.3"/><line x1="108.5" y1="100.8" x2="878.5" y2="100.8"/><line x1="108.5" y1="160.3" x2="878.5" y2="160.3"/><line x1="108.5" y1="219.8" x2="878.5" y2="219.8"/><line x1="108.5" y1="279.3" x2="878.5" y2="279.3"/><line x1="108.5" y1="338.8" x2="878.5" y2="338.8"/></g>
</g>
<g id="frame"><rect x="108.5" y="25.6" width="770.0" height="358.7" fill="none" stroke="#4d4d4d" stroke-width="1.2"/>
<g stroke="#333" stroke-width="1.1"><line x1="104" y1="41.3" x2="108.5" y2="41.3"/><line x1="104" y1="100.8" x2="108.5" y2="100.8"/><line x1="104" y1="160.3" x2="108.5" y2="160.3"/><line x1="104" y1="219.8" x2="108.5" y2="219.8"/><line x1="104" y1="279.3" x2="108.5" y2="279.3"/><line x1="104" y1="338.8" x2="108.5" y2="338.8"/><line x1="143.3" y1="384.3" x2="143.3" y2="388.8"/><line x1="260.0" y1="384.3" x2="260.0" y2="388.8"/><line x1="376.7" y1="384.3" x2="376.7" y2="388.8"/><line x1="610.1" y1="384.3" x2="610.1" y2="388.8"/><line x1="843.5" y1="384.3" x2="843.5" y2="388.8"/></g>
<g font-size="28" fill="#000"><text x="100.5" y="51.1" text-anchor="end">MR0</text><text x="100.5" y="110.6" text-anchor="end">MR1</text><text x="100.5" y="170.1" text-anchor="end">MR2</text><text x="100.5" y="229.6" text-anchor="end">MR3</text><text x="100.5" y="289.1" text-anchor="end">MR4</text><text x="100.5" y="348.6" text-anchor="end">MR5</text><text x="143.3" y="412.4" text-anchor="middle">0</text><text x="260.0" y="412.4" text-anchor="middle">3</text><text x="376.7" y="412.4" text-anchor="middle">6</text><text x="610.1" y="412.4" text-anchor="middle">12</text><text x="843.5" y="412.4" text-anchor="middle">18</text></g>
<text x="493.5" y="444.2" text-anchor="middle" font-size="31">time [months]</text>
</g>
</defs>
<rect width="887" height="1386" fill="#fff"/>
<g transform="translate(0,0.0)"><use href="#axes"/><use href="#bands"/><line x1="150" y1="361.7" x2="860" y2="361.7" stroke="#1a1a1a" stroke-width="4"/><path d="M143.5,351.7 L143.5,371.7 L153.5,361.7Z" fill="#1a1a1a"/><path d="M858,351.7 L858,371.7 L878.3,361.7Z" fill="#1a1a1a"/><rect x="442.2" y="347.7" width="136.9" height="28" fill="#fff"/><text x="512" y="370.8" text-anchor="middle" font-size="31" fill="#000">Imatinib</text><use href="#frame"/></g>
<g transform="translate(0,465.6)"><use href="#axes"/><use href="#bands"/><line x1="150" y1="361.7" x2="860" y2="361.7" stroke="#1a1a1a" stroke-width="4"/><path d="M143.5,351.7 L143.5,371.7 L153.5,361.7Z" fill="#1a1a1a"/><path d="M858,351.7 L858,371.7 L878.3,361.7Z" fill="#1a1a1a"/><rect x="442.2" y="347.7" width="136.9" height="28" fill="#fff"/><text x="512" y="370.8" text-anchor="middle" font-size="31" fill="#000">Imatinib</text><use href="#frame"/></g>
<g transform="translate(0,931.5)"><use href="#axes"/><use href="#bands"/><use href="#frame"/></g>
<polyline points="143.0,63.8 148.9,57.6 218.7,110.4 255.6,149.0 292.9,167.2 371.0,289.7 500.4,308.9 878,308.9" fill="none" stroke="#1e1e1e" stroke-width="4.0" stroke-linejoin="round"/><circle cx="143.0" cy="63.8" r="7.3" fill="#242426" stroke="#000" stroke-width="1.2"/><circle cx="148.9" cy="57.6" r="7.3" fill="#242426" stroke="#000" stroke-width="1.2"/><circle cx="218.7" cy="110.4" r="7.3" fill="#242426" stroke="#000" stroke-width="1.2"/><circle cx="255.6" cy="149.0" r="7.3" fill="#242426" stroke="#000" stroke-width="1.2"/><circle cx="292.9" cy="167.2" r="7.3" fill="#242426" stroke="#000" stroke-width="1.2"/><circle cx="371.0" cy="289.7" r="7.3" fill="#242426" stroke="#000" stroke-width="1.2"/><path d="M490.6,303.1 L510.2,303.1 L500.4,320.5Z" fill="#242426" stroke="#000" stroke-width="1.2" stroke-linejoin="miter"/><path d="M624.8,303.1 L644.4,303.1 L634.6,320.5Z" fill="#242426" stroke="#000" stroke-width="1.2" stroke-linejoin="miter"/><path d="M648.9,303.1 L668.5,303.1 L658.7,320.5Z" fill="#242426" stroke="#000" stroke-width="1.2" stroke-linejoin="miter"/><path d="M729.4,303.1 L749.0,303.1 L739.2,320.5Z" fill="#242426" stroke="#000" stroke-width="1.2" stroke-linejoin="miter"/><path d="M854.9,303.1 L874.5,303.1 L864.7,320.5Z" fill="#242426" stroke="#000" stroke-width="1.2" stroke-linejoin="miter"/>
<polyline points="145.6,540.3 188.9,521.6 226.4,514.1 260.7,513.6 333.8,559.6 376.2,572.2 492.8,628.2 619.3,633.7 734.1,646.5 841.3,660.2 878,660.8" fill="none" stroke="#1e1e1e" stroke-width="4.0" stroke-linejoin="round"/><circle cx="145.6" cy="540.3" r="7.3" fill="#242426" stroke="#000" stroke-width="1.2"/><circle cx="188.9" cy="521.6" r="7.3" fill="#242426" stroke="#000" stroke-width="1.2"/><circle cx="226.4" cy="514.1" r="7.3" fill="#242426" stroke="#000" stroke-width="1.2"/><circle cx="260.7" cy="513.6" r="7.3" fill="#242426" stroke="#000" stroke-width="1.2"/><circle cx="333.8" cy="559.6" r="7.3" fill="#242426" stroke="#000" stroke-width="1.2"/><circle cx="376.2" cy="572.2" r="7.3" fill="#242426" stroke="#000" stroke-width="1.2"/><circle cx="492.8" cy="628.2" r="7.3" fill="#242426" stroke="#000" stroke-width="1.2"/><circle cx="619.3" cy="633.7" r="7.3" fill="#242426" stroke="#000" stroke-width="1.2"/><circle cx="734.1" cy="646.5" r="7.3" fill="#242426" stroke="#000" stroke-width="1.2"/><circle cx="841.3" cy="660.2" r="7.3" fill="#242426" stroke="#000" stroke-width="1.2"/>
<polyline points="143.2,972.8 259.6,1000.7 295.3,1015.4 313.1,1019.0" fill="none" stroke="#1e1e1e" stroke-width="4.0" stroke-linejoin="round"/><polyline points="313.1,1019.0 349.2,1026.4 384.8,1090.5 493.3,1201.8 610.5,1241.3" fill="none" stroke="#808080" stroke-width="4.0" stroke-linejoin="round"/><circle cx="143.2" cy="972.8" r="7.3" fill="#242426" stroke="#000" stroke-width="1.2"/><circle cx="259.6" cy="1000.7" r="7.3" fill="#242426" stroke="#000" stroke-width="1.2"/><circle cx="295.3" cy="1015.4" r="7.3" fill="#242426" stroke="#000" stroke-width="1.2"/><path d="M349.2,1017.8 L357.8,1026.4 L349.2,1035.0 L340.6,1026.4Z" fill="#808080" stroke="#000" stroke-width="1.2"/><path d="M384.8,1081.9 L393.4,1090.5 L384.8,1099.1 L376.2,1090.5Z" fill="#808080" stroke="#000" stroke-width="1.2"/><path d="M493.3,1193.2 L501.9,1201.8 L493.3,1210.4 L484.7,1201.8Z" fill="#808080" stroke="#000" stroke-width="1.2"/><path d="M610.5,1232.7 L619.1,1241.3 L610.5,1249.9 L601.9,1241.3Z" fill="#808080" stroke="#000" stroke-width="1.2"/>
<line x1="150" y1="1293.9" x2="308" y2="1293.9" stroke="#1a1a1a" stroke-width="4"/><path d="M143.8,1283.9 L143.8,1303.9 L153.8,1293.9Z" fill="#1a1a1a"/><path d="M314.3,1283.9 L314.3,1303.9 L304.3,1293.9Z" fill="#1a1a1a"/><line x1="320" y1="1293.9" x2="614" y2="1293.9" stroke="#999" stroke-width="4"/><path d="M314.3,1283.9 L314.3,1303.9 L324.3,1293.9Z" fill="#999"/><path d="M611.5,1283.9 L611.5,1303.9 L630.6,1293.9Z" fill="#999"/><rect x="171.1" y="1279.9" width="122.9" height="28" fill="#fff"/><rect x="394.7" y="1279.9" width="154.7" height="28" fill="#fff"/><text x="231" y="1303.3" text-anchor="middle" font-size="31" fill="#000">Imatinib</text><text x="474" y="1303.3" text-anchor="middle" font-size="31" fill="#999">Dasatinib</text>
<text transform="matrix(0.96,0,0,1,0.56,0)" x="7.5" y="30.5" font-size="46" font-weight="bold" fill="#000">a</text>
<text transform="matrix(1.1,0,0,1,-1.90,0)" x="6.5" y="495.8" font-size="46" font-weight="bold" fill="#000">b</text>
<text transform="matrix(1.06,0,0,1,-0.90,0)" x="7.5" y="964.4" font-size="46" font-weight="bold" fill="#000">c</text>
</svg>
</body></html>
